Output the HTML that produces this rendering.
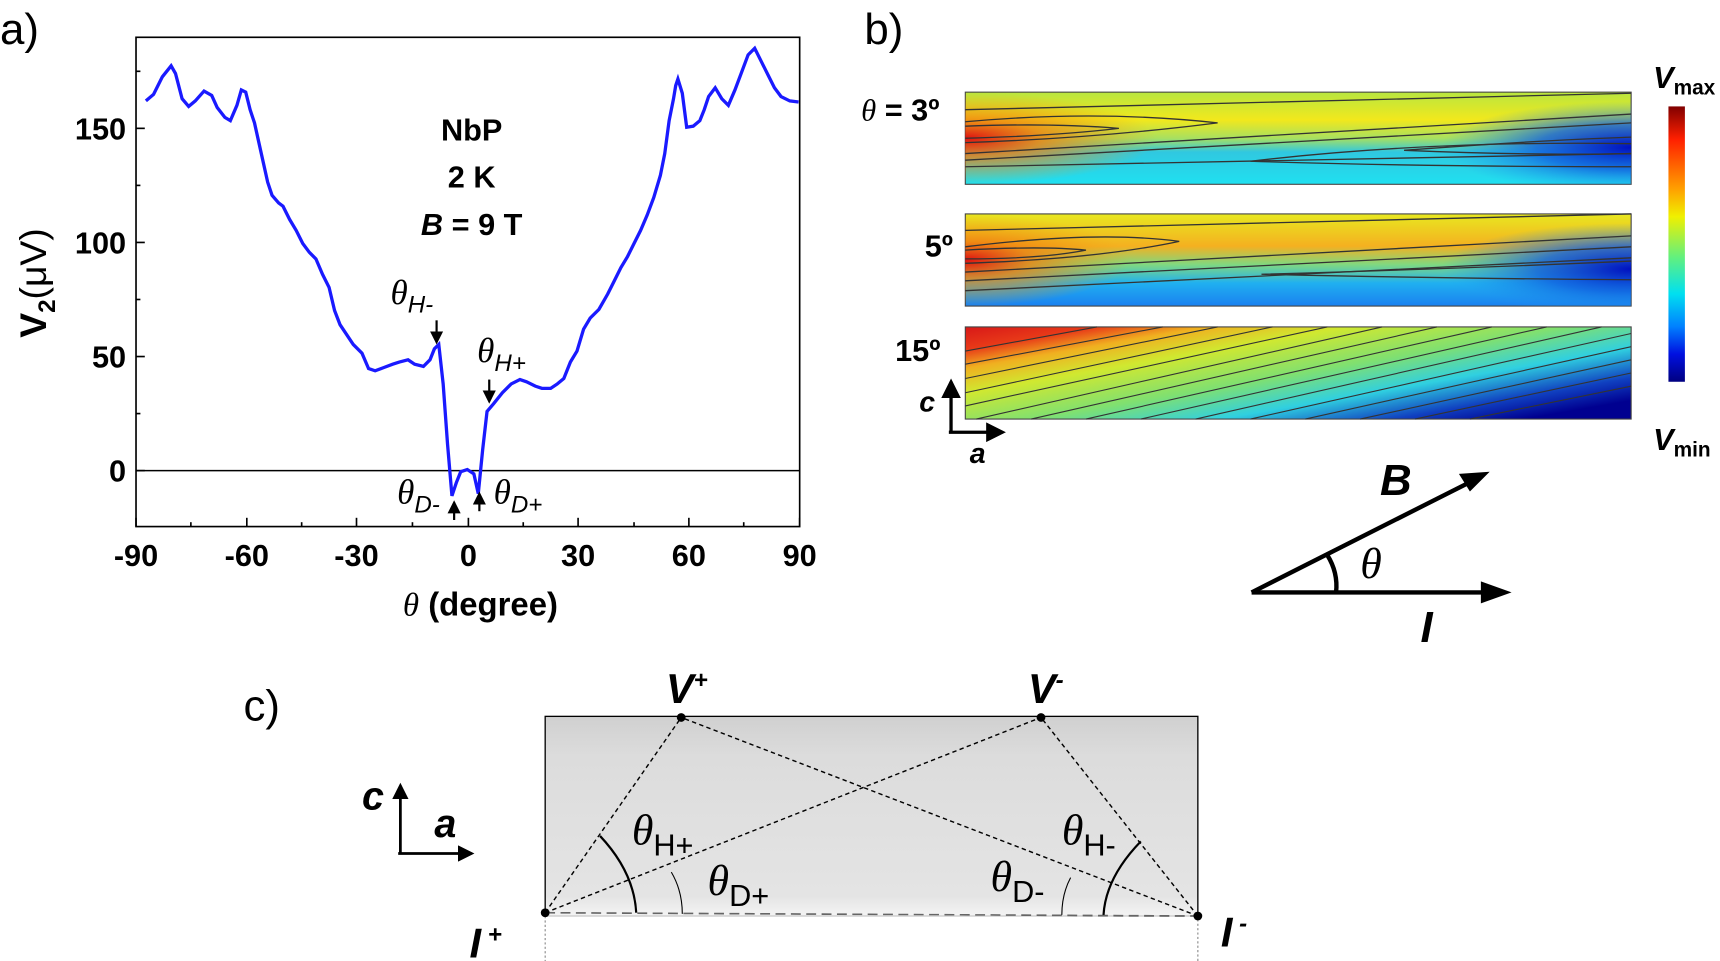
<!DOCTYPE html>
<html><head><meta charset="utf-8"><style>html,body{margin:0;padding:0;background:#fff}svg{display:block}</style></head>
<body>
<svg width="1720" height="961" viewBox="0 0 1568 876" preserveAspectRatio="none" xmlns="http://www.w3.org/2000/svg" font-family="Liberation Sans, Arial, sans-serif">
<defs>
<linearGradient id="m3" x1="0" y1="0" x2="0" y2="1">
<stop offset="0" stop-color="#b8e640"/><stop offset="0.3" stop-color="#f2e81c"/><stop offset="0.5" stop-color="#a8e060"/><stop offset="0.65" stop-color="#30c8e0"/><stop offset="1" stop-color="#20e0f0"/></linearGradient>
<linearGradient id="m5" x1="0" y1="0" x2="0" y2="1">
<stop offset="0" stop-color="#e8e820"/><stop offset="0.35" stop-color="#f4b020"/><stop offset="0.55" stop-color="#80d880"/><stop offset="0.75" stop-color="#20b0f0"/><stop offset="1" stop-color="#1a80f0"/></linearGradient>
<linearGradient id="m15" x1="0" y1="0" x2="1" y2="0.8">
<stop offset="0" stop-color="#d81818"/><stop offset="0.12" stop-color="#e83a18"/><stop offset="0.22" stop-color="#f0b020"/><stop offset="0.35" stop-color="#d0e830"/><stop offset="0.55" stop-color="#80e070"/><stop offset="0.72" stop-color="#30d0e0"/><stop offset="0.88" stop-color="#1040c0"/><stop offset="1" stop-color="#000090"/></linearGradient>
<radialGradient id="red" cx="0" cy="0.5" r="0.5"><stop offset="0" stop-color="#e01010"/><stop offset="0.4" stop-color="#f08010" stop-opacity="0.8"/><stop offset="1" stop-color="#f0a010" stop-opacity="0"/></radialGradient>
<radialGradient id="blue" cx="1" cy="0.6" r="0.5"><stop offset="0" stop-color="#0010c0"/><stop offset="0.5" stop-color="#1060e0" stop-opacity="0.8"/><stop offset="1" stop-color="#20a0f0" stop-opacity="0"/></radialGradient>
<linearGradient id="cb" x1="0" y1="0" x2="0" y2="1">
<stop offset="0" stop-color="#800000"/><stop offset="0.12" stop-color="#ff2000"/><stop offset="0.3" stop-color="#ffa000"/><stop offset="0.4" stop-color="#f0f000"/><stop offset="0.55" stop-color="#60f080"/><stop offset="0.68" stop-color="#00e0f0"/><stop offset="0.8" stop-color="#0080ff"/><stop offset="0.9" stop-color="#0010e0"/><stop offset="1" stop-color="#000080"/></linearGradient>
<linearGradient id="gr" x1="0" y1="0" x2="0" y2="1"><stop offset="0" stop-color="#d0d0d0"/><stop offset="0.2" stop-color="#dcdcdc"/><stop offset="0.9" stop-color="#e4e4e4"/><stop offset="1" stop-color="#f4f4f4"/></linearGradient>
<marker id="ah" markerWidth="6" markerHeight="6" refX="5" refY="3" orient="auto"><path d="M0,0 L6,3 L0,6 z" fill="#000"/></marker>
</defs>

<!-- Panel a -->
<text x="0" y="40" font-size="40">a)</text>
<rect x="124" y="34" width="605" height="446" fill="none" stroke="#000" stroke-width="1.5"/>
<line x1="124" y1="429" x2="729" y2="429" stroke="#000" stroke-width="1.3"/>
<g stroke="#000" stroke-width="1.5">
<line x1="124" y1="480" x2="124" y2="472"/><line x1="225" y1="480" x2="225" y2="472"/><line x1="325" y1="480" x2="325" y2="472"/><line x1="427" y1="480" x2="427" y2="472"/><line x1="527" y1="480" x2="527" y2="472"/><line x1="628" y1="480" x2="628" y2="472"/><line x1="729" y1="480" x2="729" y2="472"/>
<line x1="174" y1="480" x2="174" y2="476"/><line x1="275" y1="480" x2="275" y2="476"/><line x1="376" y1="480" x2="376" y2="476"/><line x1="477" y1="480" x2="477" y2="476"/><line x1="578" y1="480" x2="578" y2="476"/><line x1="678" y1="480" x2="678" y2="476"/>
<line x1="124" y1="117" x2="132" y2="117"/><line x1="124" y1="221" x2="132" y2="221"/><line x1="124" y1="325" x2="132" y2="325"/><line x1="124" y1="429" x2="132" y2="429"/>
<line x1="124" y1="65" x2="128" y2="65"/><line x1="124" y1="169" x2="128" y2="169"/><line x1="124" y1="273" x2="128" y2="273"/><line x1="124" y1="377" x2="128" y2="377"/>
</g>
<g font-size="28" font-weight="bold" text-anchor="end">
<text x="115" y="127">150</text><text x="115" y="231">100</text><text x="115" y="335">50</text><text x="115" y="439">0</text></g>
<g font-size="28" font-weight="bold" text-anchor="middle">
<text x="124" y="516">-90</text><text x="225" y="516">-60</text><text x="325" y="516">-30</text><text x="427" y="516">0</text><text x="527" y="516">30</text><text x="628" y="516">60</text><text x="729" y="516">90</text></g>
<text x="438" y="561" font-size="30" font-weight="bold" text-anchor="middle"><tspan font-family="Liberation Serif" font-style="italic" font-weight="normal">θ</tspan> (degree)</text>
<text transform="translate(42,258) rotate(-90)" font-size="34" font-weight="bold" text-anchor="middle">V<tspan font-size="22" dy="8">2</tspan><tspan dy="-8" font-weight="normal">(μV)</tspan></text>
<g font-size="28" font-weight="bold" text-anchor="middle"><text x="430" y="128">NbP</text><text x="430" y="171">2 K</text><text x="430" y="214"><tspan font-style="italic">B</tspan> = 9 T</text></g>
<polyline fill="none" stroke="#1a1aff" stroke-width="3" points="133,92 140,86 148,70 156,60 160,67 166,90 172,97 178,92 186,83 193,87 198,98 205,107 210,110 216,96 220,82 224,84 228,100 232,112 236,130 240,148 244,166 248,178 254,185 258,188 264,200 270,210 276,222 282,230 288,236 294,250 300,262 305,283 310,296 316,305 322,314 330,322 336,336 342,338 350,335 358,332 364,330 372,328 378,332 386,334 392,328 396,318 400,314 404,350 408,405 412,452 416,440 420,430 426,428 432,432 436,450 440,410 444,375 450,368 458,358 466,350 474,346 480,348 488,352 494,354 502,354 508,350 514,345 520,330 526,320 532,300 538,290 546,282 554,268 560,256 566,244 572,234 578,222 584,210 590,196 596,180 602,160 606,140 610,110 614,90 616,78 618,72 622,85 626,116 632,115 638,110 642,100 646,88 652,80 658,90 664,96 670,82 676,66 682,50 688,44 694,56 700,68 706,80 712,88 720,92 728,93"/>
<g font-family="Liberation Serif" font-style="italic" font-size="32">
<text x="356" y="277">θ<tspan font-family="Liberation Sans" font-size="22" dy="8">H-</tspan></text>
<text x="435" y="330">θ<tspan font-family="Liberation Sans" font-size="22" dy="8">H+</tspan></text>
<text x="362" y="459">θ<tspan font-family="Liberation Sans" font-size="22" dy="8">D-</tspan></text>
<text x="450" y="459">θ<tspan font-family="Liberation Sans" font-size="22" dy="8">D+</tspan></text></g>
<g stroke="#000" stroke-width="2" marker-end="url(#ah)">
<line x1="398" y1="292" x2="398" y2="312"/><line x1="446" y1="346" x2="446" y2="366"/>
<line x1="414" y1="474" x2="414" y2="458"/><line x1="437" y1="466" x2="437" y2="450"/></g>

<!-- Panel b -->
<text x="788" y="40" font-size="40">b)</text>
<g stroke="#444" stroke-width="1">
<rect x="880" y="84" width="607" height="84" fill="url(#m3)"/>
<rect x="880" y="84" width="350" height="84" fill="url(#red)" stroke="none"/>
<rect x="1140" y="84" width="347" height="84" fill="url(#blue)" stroke="none"/>
<rect x="880" y="195" width="607" height="84" fill="url(#m5)"/>
<rect x="880" y="195" width="300" height="84" fill="url(#red)" stroke="none"/>
<rect x="1140" y="195" width="347" height="84" fill="url(#blue)" stroke="none"/>
<rect x="880" y="298" width="607" height="84" fill="url(#m15)"/>
</g>
<g fill="none" stroke="#333" stroke-width="1.2">
<path d="M880,111 Q1000,100 1110,112 Q1000,126 880,130"/><path d="M880,115 Q960,112 1020,117 Q960,124 880,126"/>
<path d="M880,100 L1487,85"/><path d="M880,140 L1487,104"/><path d="M880,146 L1487,112"/><path d="M880,152 L1487,140"/>
<path d="M1487,131 Q1300,128 1140,147 Q1300,152 1487,152"/><path d="M1487,125 Q1400,128 1280,137 Q1400,142 1487,140"/>
<path d="M880,225 Q1000,210 1075,220 Q1000,236 880,240"/><path d="M880,228 Q950,224 990,228 Q950,236 880,236"/>
<path d="M880,210 L1487,195"/><path d="M880,248 L1487,215"/><path d="M880,256 L1487,225"/><path d="M880,265 L1487,235"/>
<path d="M1487,238 Q1330,245 1150,250 Q1330,254 1487,255"/>
</g>
<g stroke="#333" stroke-width="1" fill="none">
<path d="M880,320 L1000,298"/><path d="M880,332 L1060,298"/><path d="M880,345 L1110,298"/><path d="M880,358 L1160,298"/><path d="M880,370 L1210,298"/><path d="M890,382 L1260,298"/><path d="M940,382 L1310,298"/><path d="M990,382 L1360,298"/><path d="M1040,382 L1410,298"/><path d="M1090,382 L1460,298"/><path d="M1140,382 L1487,304"/><path d="M1190,382 L1487,316"/><path d="M1240,382 L1487,328"/><path d="M1290,382 L1487,340"/><path d="M1340,382 L1487,352"/>
</g>
<text x="785" y="110" font-size="28" font-weight="bold"><tspan font-family="Liberation Serif" font-style="italic" font-weight="normal">θ</tspan> = 3º</text>
<text x="843" y="234" font-size="28" font-weight="bold">5º</text>
<text x="816" y="329" font-size="28" font-weight="bold">15º</text>
<g stroke="#000" stroke-width="3" marker-end="url(#ah)"><line x1="867" y1="394" x2="867" y2="348"/><line x1="865" y1="394" x2="914" y2="394"/></g>
<text x="838" y="375" font-size="26" font-weight="bold" font-style="italic">c</text>
<text x="884" y="422" font-size="26" font-weight="bold" font-style="italic">a</text>
<rect x="1521" y="97" width="15" height="251" fill="url(#cb)"/>
<text x="1507" y="80" font-size="28" font-weight="bold" font-style="italic">V<tspan font-size="19" font-style="normal" dy="6">max</tspan></text>
<text x="1507" y="410" font-size="28" font-weight="bold" font-style="italic">V<tspan font-size="19" font-style="normal" dy="6">min</tspan></text>
<g stroke="#000" stroke-width="4" fill="none">
<line x1="1141" y1="540" x2="1345" y2="437"/><line x1="1141" y1="540" x2="1362" y2="540"/>
<path d="M1210,506 Q1220,522 1218,540"/></g>
<path d="M1358,430 L1330,432 L1340,448 z" fill="#000"/><path d="M1378,540 L1350,530 L1350,550 z" fill="#000"/>
<text x="1258" y="451" font-size="40" font-weight="bold" font-style="italic">B</text>
<text x="1240" y="527" font-size="40" font-family="Liberation Serif" font-style="italic">θ</text>
<text x="1295" y="585" font-size="40" font-weight="bold" font-style="italic">I</text>

<!-- Panel c -->
<text x="222" y="657" font-size="40">c)</text>
<rect x="497" y="653" width="595" height="182" fill="url(#gr)" stroke="#000" stroke-width="1.2"/>
<line x1="497" y1="835" x2="1092" y2="835" stroke="#fff" stroke-width="1"/>
<line x1="497" y1="832" x2="1092" y2="835" stroke="#666" stroke-width="1.5" stroke-dasharray="9,5"/>
<g stroke="#000" stroke-width="1.3" stroke-dasharray="4,3" fill="none">
<line x1="497" y1="832" x2="621" y2="654"/><line x1="497" y1="832" x2="949" y2="654"/>
<line x1="1092" y1="835" x2="949" y2="654"/><line x1="1092" y1="835" x2="621" y2="654"/></g>
<g stroke="#888" stroke-width="1" stroke-dasharray="2,2"><line x1="497" y1="835" x2="497" y2="876"/><line x1="1092" y1="838" x2="1092" y2="876"/></g>
<g fill="none" stroke="#000">
<path d="M547,762 Q578,795 580,832" stroke-width="2"/><path d="M612,795 Q622,812 622,833" stroke-width="1"/>
<path d="M1040,767 Q1008,800 1006,834" stroke-width="2"/><path d="M976,800 Q968,815 968,834" stroke-width="1"/></g>
<g fill="#000"><circle cx="621" cy="654" r="4"/><circle cx="949" cy="654" r="4"/><circle cx="497" cy="832" r="4"/><circle cx="1092" cy="835" r="4"/></g>
<text x="607" y="641" font-size="38" font-weight="bold" font-style="italic">V<tspan font-size="22" dy="-14">+</tspan></text>
<text x="937" y="641" font-size="38" font-weight="bold" font-style="italic">V<tspan font-size="22" dy="-14">-</tspan></text>
<text x="428" y="873" font-size="38" font-weight="bold" font-style="italic">I<tspan font-size="22" dy="-14"> +</tspan></text>
<text x="1113" y="863" font-size="38" font-weight="bold" font-style="italic">I<tspan font-size="22" dy="-14"> -</tspan></text>
<g font-family="Liberation Serif" font-style="italic" font-size="40">
<text x="576" y="770">θ<tspan font-family="Liberation Sans" font-style="normal" font-size="28" dy="10">H+</tspan></text>
<text x="645" y="816">θ<tspan font-family="Liberation Sans" font-style="normal" font-size="28" dy="10">D+</tspan></text>
<text x="968" y="770">θ<tspan font-family="Liberation Sans" font-style="normal" font-size="28" dy="10">H-</tspan></text>
<text x="903" y="812">θ<tspan font-family="Liberation Sans" font-style="normal" font-size="28" dy="10">D-</tspan></text></g>
<g stroke="#000" stroke-width="2.5" marker-end="url(#ah)"><line x1="365" y1="778" x2="365" y2="716"/><line x1="363" y1="778" x2="430" y2="778"/></g>
<text x="330" y="738" font-size="36" font-weight="bold" font-style="italic">c</text>
<text x="396" y="763" font-size="36" font-weight="bold" font-style="italic">a</text>
</svg>
</body></html>
